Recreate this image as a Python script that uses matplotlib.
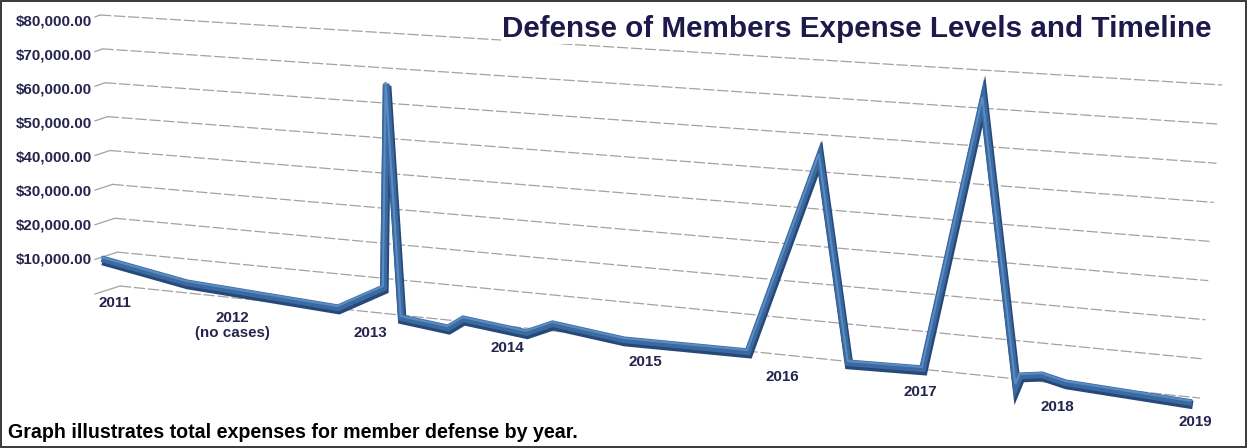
import numpy as np
import matplotlib
matplotlib.use("Agg")
import matplotlib.pyplot as plt
from matplotlib.transforms import Transform, Affine2D
from matplotlib import font_manager as fm
from matplotlib.patches import Rectangle

# ---------------- data ----------------
years = ["2011", "2012", "2013", "2014", "2015", "2016", "2017", "2018", "2019"]
year_notes = ["", "(no cases)", "", "", "", "", "", "", ""]
# position on the timeline (years after the 2011 label) and total expense ($)
time_pos = [0.05, 0.67, 1.77, 2.10, 2.12, 2.23, 2.57, 2.68, 3.14, 3.33, 3.85,
            4.75, 5.27, 5.48, 6.02, 6.46, 6.70, 6.73, 6.89, 7.06, 7.98]
expense = [10300, 5800, 3000, 9800, 66500, 2000, 500, 3400, 1400, 4500, 2100,
           2250, 55500, 2000, 2400, 73250, 450, 3100, 3900, 2500, 700]
y_ticks = [0, 10000, 20000, 30000, 40000, 50000, 60000, 70000, 80000]
title_text = "Defense of Members Expense Levels and Timeline"
caption_text = "Graph illustrates total expenses for member defense by year."

# ---------------- fonts ----------------
def pick(names):
    for n in names:
        try:
            fm.findfont(fm.FontProperties(family=n), fallback_to_default=False)
            return n
        except Exception:
            pass
    return "DejaVu Sans"

NARROW = pick(["Liberation Sans Narrow", "Liberation Sans", "Arial"])
WIDE = pick(["Liberation Sans", "Arial"])
narrow_found = NARROW == "Liberation Sans Narrow"

W, H = 1247, 448
fig = plt.figure(figsize=(W / 100, H / 100), dpi=100)
fig.patch.set_facecolor("white")
ax = fig.add_axes([0, 0, 1, 1])
ax.set_xlim(0, len(years) - 1)
ax.set_ylim(0, y_ticks[-1])
ax.set_axis_off()


class Bilinear(Transform):
    """Maps the unit square onto a quadrilateral (3-D perspective look)."""
    input_dims = 2
    output_dims = 2

    def __init__(self, p00, p10, p01, p11):
        super().__init__()
        self._p = np.array([p00, p10, p01, p11], float)

    def transform_non_affine(self, values):
        v = np.asarray(values, float)
        shp = v.shape
        v = v.reshape(-1, 2)
        u = v[:, :1]
        w = v[:, 1:]
        p00, p10, p01, p11 = self._p
        out = (1 - u) * (1 - w) * p00 + u * (1 - w) * p10 + (1 - u) * w * p01 + u * w * p11
        return out.reshape(shp)


# image-pixel (y down) -> display
pix = Affine2D().scale(1 / W, -1 / H).translate(0, 1) + fig.transFigure

front = Bilinear((95, 294), (1195, 406), (95, 17), (1195, 86))
back = Bilinear((120, 286), (1200, 398), (100, 15), (1222, 85))
wall = Bilinear((95, 294), (120, 286), (95, 17), (100, 15))

T_front = ax.transLimits + front + pix
T_back = ax.transLimits + back + pix
T_wall = Affine2D().scale(1, 1 / y_ticks[-1]) + wall + pix

grid_color = "#a2a2a2"
for v in y_ticks:
    ax.plot([0, len(years) - 1], [v, v], transform=T_back, color=grid_color,
            lw=0.9, dashes=(9, 2.2), clip_on=False, zorder=1)
    ax.plot([0, 1], [v, v], transform=T_wall, color=grid_color, lw=0.9,
            clip_on=False, zorder=1)

# y labels
label_color = "#25244e"
lab_size = 11.5 if narrow_found else 10.9
for v in y_ticks[1:]:
    off = Affine2D().translate(-3, -5 * v / y_ticks[-1])
    ax.text(0, v, f"${v:,.2f}", transform=T_front + off, ha="right", va="center",
            fontsize=lab_size, fontweight="bold", color=label_color, family=NARROW)

# ribbon (3-D look)
ax.plot(time_pos, expense, transform=T_front + Affine2D().translate(0.6, -2.0),
        color="#26497a", lw=6.2, solid_joinstyle="miter", solid_capstyle="butt",
        clip_on=False, zorder=3)
ax.plot(time_pos, expense, transform=T_front + Affine2D().translate(-0.3, 0.3),
        color="#3b6aa1", lw=4.8, solid_joinstyle="miter", solid_capstyle="butt",
        clip_on=False, zorder=4)
ax.plot(time_pos, expense, transform=T_front + Affine2D().translate(-0.9, 2.0),
        color="#5a8bc3", lw=1.5, solid_joinstyle="miter", solid_capstyle="butt",
        clip_on=False, zorder=5)

# year labels along the floor edge
for i, (yr, note) in enumerate(zip(years, year_notes)):
    dy = 9 + 7 * i / (len(years) - 1)
    dx = 20 if i == 0 else 0
    ax.text(i, 0, yr, transform=T_front + Affine2D().translate(dx, -dy),
            ha="center", va="center", fontsize=lab_size, fontweight="bold",
            color=label_color, family=NARROW)
    if note:
        ax.text(i, 0, note, transform=T_front + Affine2D().translate(dx, -dy - 15),
                ha="center", va="center", fontsize=lab_size, fontweight="bold",
                color=label_color, family=NARROW)

# title
fig.text(1212 / W, 1 - 37 / H, title_text, ha="right", va="baseline",
         fontsize=21.3, fontweight="bold", color="#1d1a4b", family=WIDE,
         bbox=dict(facecolor="white", edgecolor="none", pad=1), zorder=10)

# caption
fig.text(8 / W, 1 - 438 / H, caption_text, ha="left", va="baseline",
         fontsize=14.1, fontweight="bold", color="black", family=NARROW)

# border
fig.add_artist(Rectangle((1 / W, 1 / H), 1 - 2.5 / W, 1 - 2.5 / H,
                         transform=fig.transFigure, fill=False,
                         edgecolor="#2a2a2a", lw=1.3))

fig.savefig("out.png", dpi=100, facecolor="white")
